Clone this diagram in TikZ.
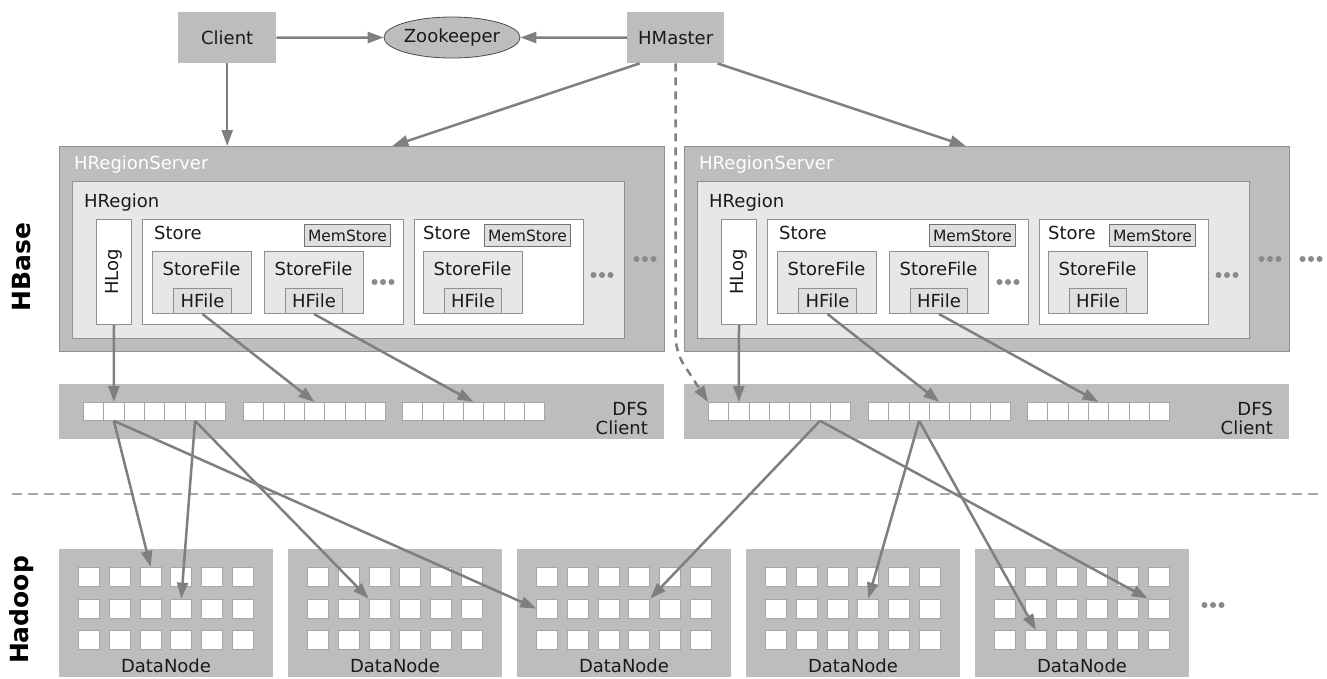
\documentclass[tikz,border=0pt]{standalone}
\usepackage{fontspec}
\setmainfont{DejaVu Sans}
\usetikzlibrary{calc,arrows.meta,shapes.geometric}
\definecolor{boxgray}{HTML}{BCBDBF}
\definecolor{lightfill}{HTML}{E7E7E8}
\definecolor{hfill}{HTML}{DFDFE0}
\definecolor{edge}{HTML}{909092}
\definecolor{arrowgray}{HTML}{7F7F81}
\definecolor{dotgray}{HTML}{8A8A8C}
\definecolor{ink}{HTML}{1A1A1A}
\tikzset{
  box/.style={anchor=north west, inner sep=0pt, text=ink},
  blk/.style={box, fill=boxgray, draw=none},
  srv/.style={box, fill=boxgray, draw=edge, line width=1pt},
  reg/.style={box, fill=lightfill, draw=edge, line width=1pt},
  wbox/.style={box, fill=white, draw=edge, line width=1pt},
  sfile/.style={box, fill=lightfill, draw=edge, line width=1pt},
  hfile/.style={box, fill=hfill, draw=edge, line width=1pt},
  mem/.style={box, fill=hfill, draw=edge!80!black, line width=1pt, font=\fontsize{15.5}{18}\selectfont},
  cell/.style={box, fill=white, draw=edge!80, line width=0.8pt, minimum width=20.3pt, minimum height=18pt},
  dncell/.style={box, fill=white, draw=edge!80, line width=0.8pt, minimum width=21pt, minimum height=19pt},
  link/.style={draw=arrowgray, line width=2.5pt, -{Triangle[length=16pt,width=11pt]}},
  ctrl/.style={link, dash pattern=on 8pt off 6pt},
  sep/.style={draw=edge!80, line width=1.5pt, dash pattern=on 10pt off 6pt},
  lab/.style={inner sep=0pt, text=ink},
  side/.style={inner sep=0pt, text=black, font=\fontsize{25}{28}\selectfont\bfseries, rotate=90},
  more/.pic={\foreach \k in {-8.5,0,8.5} \fill[dotgray] (\k,0) circle (3pt);},
}

\begin{document}
\begin{tikzpicture}[x=1pt, y=-1pt, font=\fontsize{18}{21}\selectfont]
  \useasboundingbox (0,0) rectangle (1327,678);

  \node[side] at (22,267) {HBase};
  \node[side] at (22,610) {Hadoop};

  % master side
  \node[blk, minimum width=98pt, minimum height=51pt] (client) at (178,12) {Client};
  \node[ellipse, fill=boxgray, draw=black!70, line width=0.8pt, inner sep=0pt,
        minimum width=127pt, minimum height=41pt, text=ink] (zk) at (452,37.5) {Zookeeper};
  \node[blk, minimum width=97pt, minimum height=51pt] (hmaster) at (627,12) {HMaster};

  % region servers and dfs clients
  \foreach \s/\dx in {L/0pt,R/625pt}{
    \begin{scope}[xshift=\dx]
      \node[srv, minimum width=605pt, minimum height=205pt] (rs\s) at (59,146) {};
      \node[lab, anchor=base west, text=white] at (74,169) {HRegionServer};
      \node[reg, minimum width=552pt, minimum height=157pt] (hr\s) at (72,181) {};
      \node[lab, anchor=base west] at (84,207) {HRegion};

      \node[wbox, minimum width=35pt, minimum height=105pt] (hlog\s) at (96,219) {};
      \node[lab, rotate=90] at (hlog\s.center) {HLog};

      \node[wbox, minimum width=261pt, minimum height=105pt] (st1\s) at (142,219) {};
      \node[lab, anchor=base west] at (154,239) {Store};
      \node[mem, minimum width=86pt, minimum height=22pt] (ms1\s) at (304,224) {MemStore};
      \node[sfile, minimum width=99pt, minimum height=62pt] (sf1\s) at (152,251) {};
      \node[lab, anchor=base] at (201.5,275) {StoreFile};
      \node[hfile, minimum width=58pt, minimum height=25pt] (hf1\s) at (173,288) {HFile};
      \node[sfile, minimum width=99pt, minimum height=62pt] (sf2\s) at (264,251) {};
      \node[lab, anchor=base] at (313.5,275) {StoreFile};
      \node[hfile, minimum width=57pt, minimum height=25pt] (hf2\s) at (285,288) {HFile};
      \pic at (383,282) {more};

      \node[wbox, minimum width=169pt, minimum height=105pt] (st2\s) at (414,219) {};
      \node[lab, anchor=base west] at (423,239) {Store};
      \node[mem, minimum width=86pt, minimum height=22pt] (ms2\s) at (484,224) {MemStore};
      \node[sfile, minimum width=99pt, minimum height=62pt] (sf3\s) at (423,251) {};
      \node[lab, anchor=base] at (472.5,275) {StoreFile};
      \node[hfile, minimum width=57pt, minimum height=25pt] (hf3\s) at (444,288) {HFile};
      \pic at (602,275) {more};
      \pic at (645,259) {more};

      \node[blk, minimum width=605pt, minimum height=55pt] (dfs\s) at (59,384) {};
      \foreach \g/\gx in {1/83,2/243,3/402}
        \foreach \c in {1,...,7}
          \node[cell] (dfs\s-\g-\c) at ({\gx+(\c-1)*20.3},402) {};
      \node[lab, anchor=base east] at (648,415) {DFS};
      \node[lab, anchor=base east] at (648,434) {Client};

      \draw[link] (hlog\s.south) -- (dfs\s-1-2.north);
      \draw[link] (hf1\s.south) -- (dfs\s-2-4.north);
      \draw[link] (hf2\s.south) -- (dfs\s-3-4.north);
    \end{scope}
  }
  \pic at (1311,259) {more};

  \draw[link] (client.east) -- (zk.west);
  \draw[link] (hmaster.west) -- (zk.east);
  \draw[link] (client.south) -- (client.south |- rsL.north);
  \draw[link] ($(hmaster.south west)!0.13!(hmaster.south east)$) -- ($(rsL.north west)!0.55!(rsL.north east)$);
  \draw[link] ($(hmaster.south west)!0.93!(hmaster.south east)$) -- ($(rsR.north west)!0.465!(rsR.north east)$);
  \coordinate (bend) at (hmaster.south |- 0,352);
  \draw[ctrl, rounded corners=14pt] (hmaster.south) -- (bend) -- (dfsR-1-1.north west);

  \draw[sep] (12,494) -- (1322,494);

  % data nodes
  \foreach \d in {1,...,5}{
    \node[blk, minimum width=214pt, minimum height=128pt] (dn\d) at ({59+(\d-1)*229},549) {};
    \node[lab, anchor=base] at ({166+(\d-1)*229},672) {DataNode};
    \foreach \r in {1,2,3}
      \foreach \c in {1,...,6}
        \node[dncell] (dn\d-\r-\c) at ({59+(\d-1)*229+19.3+(\c-1)*30.7},{567+(\r-1)*31.6}) {};
  }
  \pic at (1213,605) {more};

  \draw[link] (dfsL-1-2.south) -- (dn1-1-3.north);
  \draw[link] (dfsL-1-2.south) -- (dn3-2-1.west);
  \draw[link] (dfsL-1-6.south) -- (dn1-2-4.north);
  \draw[link] (dfsL-1-6.south) -- (dn2-2-3.north west);
  \draw[link] (dfsR-1-6.south) -- (dn3-2-4.north east);
  \draw[link] (dfsR-1-6.south) -- (dn5-2-6.north west);
  \draw[link] (dfsR-2-3.south) -- (dn4-2-4.north);
  \draw[link] (dfsR-2-3.south) -- (dn5-3-2.north);
\end{tikzpicture}
\end{document}
